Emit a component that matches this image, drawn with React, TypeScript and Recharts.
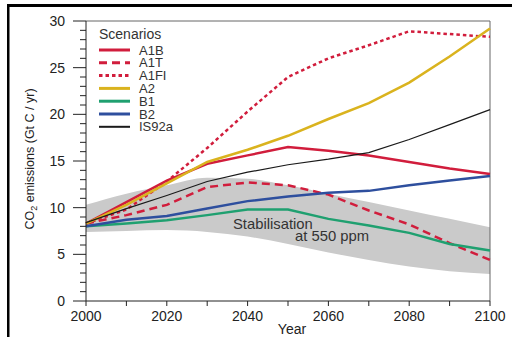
import React from 'react';
import { ComposedChart, Line, Area, XAxis, YAxis, ReferenceLine } from 'recharts';

// decades 2000..2100, Gt C / yr
const years = [2000, 2010, 2020, 2030, 2040, 2050, 2060, 2070, 2080, 2090, 2100];
const a1b = [8.3, 10.6, 12.9, 14.7, 15.6, 16.5, 16.1, 15.6, 14.9, 14.2, 13.6];
const a1t = [8.3, 9.2, 10.3, 12.2, 12.7, 12.4, 11.4, 9.7, 8.2, 6.2, 4.4];
const a1fi = [8.3, 9.8, 12.8, 16.4, 20.3, 24.0, 26.0, 27.4, 28.9, 28.6, 28.3];
const a2 = [8.3, 10.3, 12.6, 14.9, 16.2, 17.7, 19.5, 21.2, 23.4, 26.2, 29.2];
const b1 = [8.0, 8.3, 8.65, 9.2, 9.8, 9.8, 8.8, 8.1, 7.3, 6.1, 5.4];
const b2 = [8.0, 8.7, 9.1, 9.9, 10.7, 11.2, 11.6, 11.8, 12.4, 12.9, 13.4];
const is92a = [8.4, 9.9, 11.3, 12.8, 13.8, 14.6, 15.2, 15.9, 17.3, 18.9, 20.5];

// stabilisation at 550 ppm band
const bandLow = [7.4, 7.5, 7.6, 7.4, 6.9, 6.1, 5.2, 4.4, 3.7, 3.2, 2.9];
const bandHigh = [10.3, 11.5, 12.4, 13.2, 13.1, 12.4, 11.5, 10.6, 9.7, 8.8, 7.9];

const xTicks = [2000, 2010, 2020, 2030, 2040, 2050, 2060, 2070, 2080, 2090, 2100];
const xLabels = [2000, 2020, 2040, 2060, 2080, 2100];
const yLabels = [0, 5, 10, 15, 20, 25, 30];
const yTicks = [0, 1, 2, 3, 4, 5, 6, 7, 8, 9, 10, 11, 12, 13, 14, 15, 16, 17, 18, 19, 20, 21, 22, 23, 24, 25, 26, 27, 28, 29, 30];

const RED = '#d11d3c';
const series = [
  { key: 'A1B', values: a1b, color: RED, dash: undefined, width: 2.5 },
  { key: 'A1T', values: a1t, color: RED, dash: '8 5', width: 2.5 },
  { key: 'A1FI', values: a1fi, color: RED, dash: '3.5 3', width: 2.5 },
  { key: 'A2', values: a2, color: '#dab31e', dash: undefined, width: 2.5 },
  { key: 'B1', values: b1, color: '#1fa070', dash: undefined, width: 2.5 },
  { key: 'B2', values: b2, color: '#2e4f9e', dash: undefined, width: 2.5 },
  { key: 'IS92a', values: is92a, color: '#1a1a1a', dash: undefined, width: 1.2 },
];

const data = years.map((year, i) => {
  const row: any = { year, band: [bandLow[i], bandHigh[i]] };
  series.forEach(s => { row[s.key] = s.values[i]; });
  return row;
});

const font = '"Liberation Sans", Arial, sans-serif';

const XTick = (props: any) => {
  const { x, y, payload } = props;
  return (
    <g>
      <line x1={x} x2={x} y1={y} y2={y + 5} stroke="#222" />
      {xLabels.includes(payload.value) && (
        <text x={x} y={y + 20} textAnchor="middle" fontSize={14} fill="#222" fontFamily={font}>{payload.value}</text>
      )}
    </g>
  );
};

const YTick = (props: any) => {
  const { x, y, payload } = props;
  const major = yLabels.includes(payload.value);
  return (
    <g>
      <line x1={x - (major ? 13 : 6)} x2={x} y1={y} y2={y} stroke="#222" />
      {major && (
        <text x={x - 21} y={y + 5} textAnchor="end" fontSize={14} fill="#222" fontFamily={font}>{payload.value}</text>
      )}
    </g>
  );
};

const App: React.FC = () => {
  return (
    <div style={{ position: 'absolute', left: 0, top: 0, width: 512, height: 337, background: '#fff', fontFamily: font }}>
      <ComposedChart width={512} height={337} data={data} margin={{ top: 21, right: 22, bottom: 0, left: 0 }}>
        <XAxis
          dataKey="year"
          type="number"
          domain={[2000, 2100]}
          ticks={xTicks}
          interval={0}
          height={36}
          tickSize={0}
          tickMargin={0}
          tickLine={false}
          tick={XTick}
          axisLine={{ stroke: '#222' }}
        />
        <YAxis
          type="number"
          domain={[0, 30]}
          ticks={yTicks}
          interval={0}
          width={86}
          tickSize={0}
          tickMargin={0}
          tickLine={false}
          tick={YTick}
          axisLine={{ stroke: '#222' }}
        />
        <Area dataKey="band" type="monotone" fill="#cacaca" fillOpacity={1} stroke="none" isAnimationActive={false} />
        <ReferenceLine y={30} stroke="#666" />
        <ReferenceLine x={2100} stroke="#666" />
        {series.map(s => (
          <Line
            key={s.key}
            dataKey={s.key}
            type="linear"
            stroke={s.color}
            strokeWidth={s.width}
            strokeDasharray={s.dash}
            dot={false}
            isAnimationActive={false}
          />
        ))}
      </ComposedChart>

      <svg width={512} height={337} style={{ position: 'absolute', left: 0, top: 0, pointerEvents: 'none' }}>
        {/* outer frame */}
        <rect x={7} y={4} width={505} height={3} fill="#000" />
        <rect x={7} y={4} width={2.5} height={333} fill="#000" />

        {/* legend */}
        <text x={99} y={39} fontSize={14} fill="#333" fontFamily={font}>Scenarios</text>
        {series.map((s, i) => {
          const cy = 50 + i * 12.8;
          return (
            <g key={s.key}>
              <line x1={99} x2={130} y1={cy} y2={cy} stroke={s.color} strokeWidth={s.width === 2.5 ? 3 : 2} strokeDasharray={s.dash} />
              <text x={139} y={cy + 4.5} fontSize={13} fill="#333" fontFamily={font}>{s.key}</text>
            </g>
          );
        })}

        {/* band annotation */}
        <text x={233} y={229} fontSize={14.8} fill="#333" fontFamily={font}>Stabilisation</text>
        <text x={295} y={241} fontSize={14.8} fill="#333" fontFamily={font}>at 550 ppm</text>

        {/* axis titles */}
        <text x={292} y={334} textAnchor="middle" fontSize={14} fill="#222" fontFamily={font}>Year</text>
        <text transform="translate(34,159) rotate(-90)" textAnchor="middle" fontSize={12.5} fill="#222" fontFamily={font}>
          CO<tspan fontSize={9} dy={3}>2</tspan><tspan dy={-3}> emissions (Gt C / yr)</tspan>
        </text>
      </svg>
    </div>
  );
};

export default App;
